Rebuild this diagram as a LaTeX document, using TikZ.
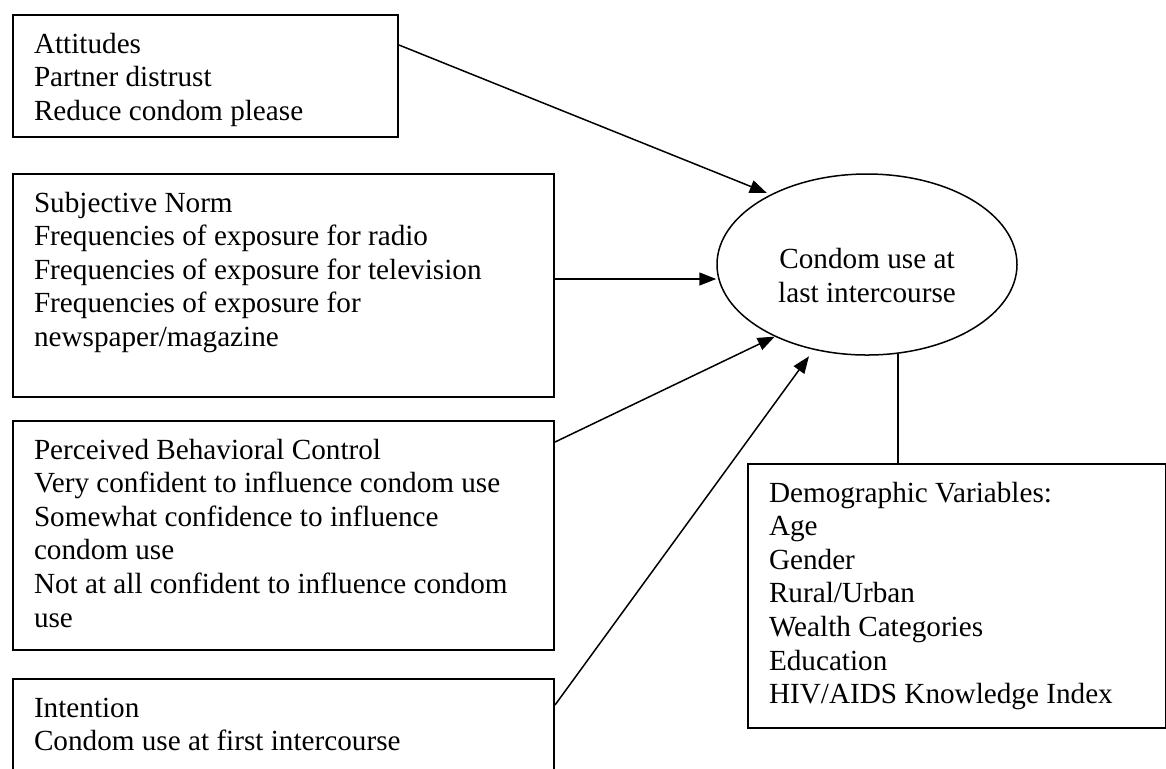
\documentclass[tikz,border=0pt]{standalone}
\usepackage{fontspec}
\setmainfont{Liberation Serif}
\usepackage{tikz}
\usetikzlibrary{shapes.geometric}
\usetikzlibrary{positioning, arrows.meta}
\tikzstyle{arr}=[-{Triangle[length=8.5pt,width=6.5pt]}, line width=0.75pt]
\tikzstyle{txtbox}=[draw, line width=1pt, anchor=north west, inner xsep=10.5pt, inner ysep=7.25pt]
\newcommand{\boxlines}[3]{\parbox[c][#2][t]{#1}{\strut #3}}

\begin{document}
\begin{tikzpicture}[x=0.5pt, y=-0.5pt, font=\fontsize{14.6}{16.8}\selectfont]
	\useasboundingbox (0,0) rectangle (1166,768);
	\clip (0,0) rectangle (1166,768);
	\node[txtbox] (att) at (12,14) {\boxlines{171.5pt}{46.5pt}{Attitudes\\Partner distrust\\Reduce condom please}};
	\node[txtbox] (norm) at (12,173) {\boxlines{249.5pt}{97pt}{Subjective Norm\\Frequencies of exposure for radio\\Frequencies of exposure for television\\Frequencies of exposure for\\newspaper/magazine}};
	\node[txtbox] (pbc) at (12,420) {\boxlines{249.5pt}{100pt}{Perceived Behavioral Control\\Very confident to influence condom use\\Somewhat confidence to influence\\condom use\\Not at all confident to influence condom\\use}};
	\node[txtbox] (intent) at (12,678) {\boxlines{249.5pt}{50pt}{Intention\\Condom use at first intercourse}};
	\node[draw, ellipse, line width=0.75pt, minimum width=150pt, minimum height=90.5pt, inner sep=0pt, label={[align=center, yshift=-5.5pt]center:{Condom use at\\last intercourse}}] (use) at (867,264.5) {};
	\node[txtbox] (demo) at (747,463) {\boxlines{188pt}{117.5pt}{Demographic Variables:\\Age\\Gender\\Rural/Urban\\Wealth Categories\\Education\\HIV/AIDS Knowledge Index}};
	\draw[arr, shorten >=2pt] ([yshift=-15.5pt]att.north east) -- (use.144);
	\draw[arr] ([yshift=3.25pt]norm.east) -- ([yshift=3.25pt]norm.east -| use.west);
	\draw[arr] ([yshift=-11pt]pbc.north east) -- (use.218);
	\draw[arr, shorten >=4pt] ([yshift=-13.5pt]intent.north east) -- (use.238);
	\draw[line width=0.75pt] (use.289) -- (use.289 |- demo.north);
\end{tikzpicture}
\end{document}
